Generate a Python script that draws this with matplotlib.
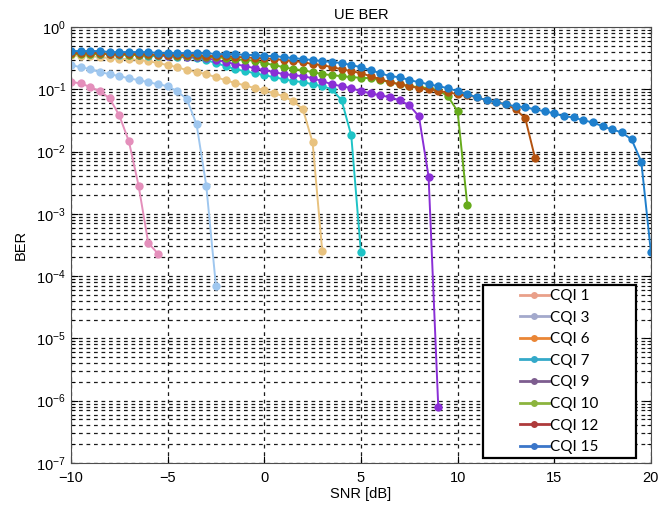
import numpy as np
import matplotlib.pyplot as plt
from matplotlib.lines import Line2D
from matplotlib.patches import Rectangle

plt.rcParams['font.family'] = ['Liberation Sans', 'DejaVu Sans']

# SNR grid (dB), 0.5 dB steps; every curve starts at -10 dB
snr = np.arange(-10, 20.25, 0.5)

labels = ['CQI 1', 'CQI 3', 'CQI 6', 'CQI 7', 'CQI 9', 'CQI 10', 'CQI 12', 'CQI 15']

ber_cqi1 = [0.130, 0.125, 0.108, 0.093, 0.0716, 0.0381, 0.0145, 0.00283, 3.4e-4, 2.3e-4]

ber_cqi3 = [0.244, 0.226, 0.210, 0.188, 0.175, 0.162, 0.150, 0.140, 0.130, 0.120,
            0.112, 0.093, 0.069, 0.0272, 0.00283, 7.0e-5]

ber_cqi6 = [0.354, 0.341, 0.341, 0.328, 0.316, 0.305, 0.305, 0.294, 0.283, 0.263,
            0.244, 0.226, 0.202, 0.188, 0.175, 0.156, 0.140, 0.125, 0.116, 0.104,
            0.0964, 0.0862, 0.0771, 0.064, 0.0476, 0.014, 2.5e-4]

ber_cqi7 = [0.381, 0.381, 0.367, 0.367, 0.367, 0.354, 0.354, 0.354, 0.341, 0.341,
            0.341, 0.328, 0.328, 0.316, 0.294, 0.263, 0.235, 0.210, 0.195, 0.181,
            0.168, 0.156, 0.145, 0.135, 0.130, 0.120, 0.112, 0.100, 0.0665, 0.0181,
            2.4e-4]

ber_cqi9 = [0.381, 0.381, 0.381, 0.367, 0.367, 0.367, 0.367, 0.354, 0.354, 0.354,
            0.341, 0.341, 0.328, 0.328, 0.316, 0.294, 0.273, 0.253, 0.235, 0.218,
            0.202, 0.188, 0.175, 0.168, 0.162, 0.150, 0.135, 0.120, 0.112, 0.104,
            0.0929, 0.0862, 0.080, 0.0743, 0.0665, 0.0552, 0.0367, 0.00395, 8.0e-7]

ber_cqi10 = [0.367, 0.367, 0.367, 0.367, 0.367, 0.367, 0.354, 0.354, 0.354, 0.354,
             0.354, 0.341, 0.341, 0.341, 0.328, 0.328, 0.316, 0.305, 0.294, 0.288,
             0.263, 0.244, 0.226, 0.210, 0.202, 0.188, 0.175, 0.168, 0.162, 0.156,
             0.153, 0.150, 0.140, 0.130, 0.120, 0.112, 0.108, 0.104, 0.0964, 0.0771,
             0.0442, 0.0014]

ber_cqi12 = [0.381, 0.381, 0.381, 0.381, 0.367, 0.367, 0.367, 0.367, 0.367, 0.354,
             0.354, 0.354, 0.354, 0.354, 0.341, 0.341, 0.341, 0.328, 0.328, 0.316,
             0.316, 0.305, 0.294, 0.283, 0.273, 0.253, 0.244, 0.226, 0.210, 0.195,
             0.181, 0.162, 0.145, 0.130, 0.120, 0.112, 0.104, 0.100, 0.0929, 0.0895,
             0.083, 0.080, 0.0743, 0.0665, 0.0617, 0.0573, 0.0476, 0.0341, 0.008]

ber_cqi15 = [0.410, 0.410, 0.410, 0.410, 0.395, 0.395, 0.395, 0.395, 0.395, 0.381,
             0.381, 0.381, 0.381, 0.381, 0.381, 0.367, 0.367, 0.367, 0.354, 0.354,
             0.341, 0.341, 0.328, 0.316, 0.305, 0.294, 0.283, 0.273, 0.263, 0.244,
             0.226, 0.202, 0.181, 0.162, 0.156, 0.140, 0.130, 0.120, 0.112, 0.104,
             0.0929, 0.083, 0.0743, 0.0665, 0.0617, 0.0573, 0.0532, 0.0513, 0.0476, 0.0442,
             0.0410, 0.0367, 0.0354, 0.0316, 0.0294, 0.0253, 0.0226, 0.0202, 0.0156, 0.0069,
             2.4e-4]

series = [ber_cqi1, ber_cqi3, ber_cqi6, ber_cqi7, ber_cqi9, ber_cqi10, ber_cqi12, ber_cqi15]

# colours of the plotted curves
line_colors = ['#e48fbb', '#9fc7ef', '#e8c27f', '#1fc3c6', '#8a2fd6', '#67ab1c', '#b3520f', '#1f7fcc']
# the legend in the original uses a different palette
legend_colors = ['#e9a08a', '#a3a9cc', '#ea8636', '#34a9c9', '#7d5d8f', '#8cb43e', '#ae3a3b', '#3b76c9']

fig = plt.figure(figsize=(6.69, 5.13), dpi=100)
ax = fig.add_axes([0.106, 0.0975, 0.867, 0.85])

for ber, col in zip(series, line_colors):
    ax.semilogy(snr[:len(ber)], ber, '-o', color=col, lw=1.4, markersize=6, markeredgewidth=0)

ax.set_xlim(-10, 20)
ax.set_ylim(1e-7, 1)
ax.set_xticks(np.arange(-10, 21, 5))
ax.set_yticks([10.0 ** k for k in range(-7, 1)])
ax.tick_params(which='both', direction='in', top=True, right=True, labelsize=10.5)
ax.tick_params(which='major', length=5)
ax.tick_params(which='minor', length=3)
ax.tick_params(axis='x', pad=6)

ax.grid(True, which='major', color='0.1', linestyle=(0, (3, 3)), lw=0.9)
ax.grid(True, which='minor', axis='y', color='0.1', linestyle=(0, (3, 3)), lw=0.9)
for s in ax.spines.values():
    s.set_color('0.3')

ax.set_title('UE BER', fontsize=10.5, pad=6)
ax.set_xlabel('SNR [dB]', fontsize=10.5, labelpad=1)
ax.set_ylabel('BER', fontsize=10.5, labelpad=6)

# legend box (white, black frame) with centred entries
box = (0.71, 0.011, 0.264, 0.397)
ax.add_patch(Rectangle(box[:2], box[2], box[3], transform=ax.transAxes,
                       facecolor='white', edgecolor='black', lw=1.6, zorder=4))
handles = [Line2D([], [], color=c, marker='o', lw=2, markersize=5, markeredgewidth=0)
           for c in legend_colors]
ax.legend(handles, labels, loc='center', bbox_to_anchor=box, frameon=False,
          prop={'family': 'Lato', 'size': 11}, handlelength=1.9, handletextpad=0.1,
          labelspacing=0.5).set_zorder(5)

plt.savefig('out.png', dpi=100)
